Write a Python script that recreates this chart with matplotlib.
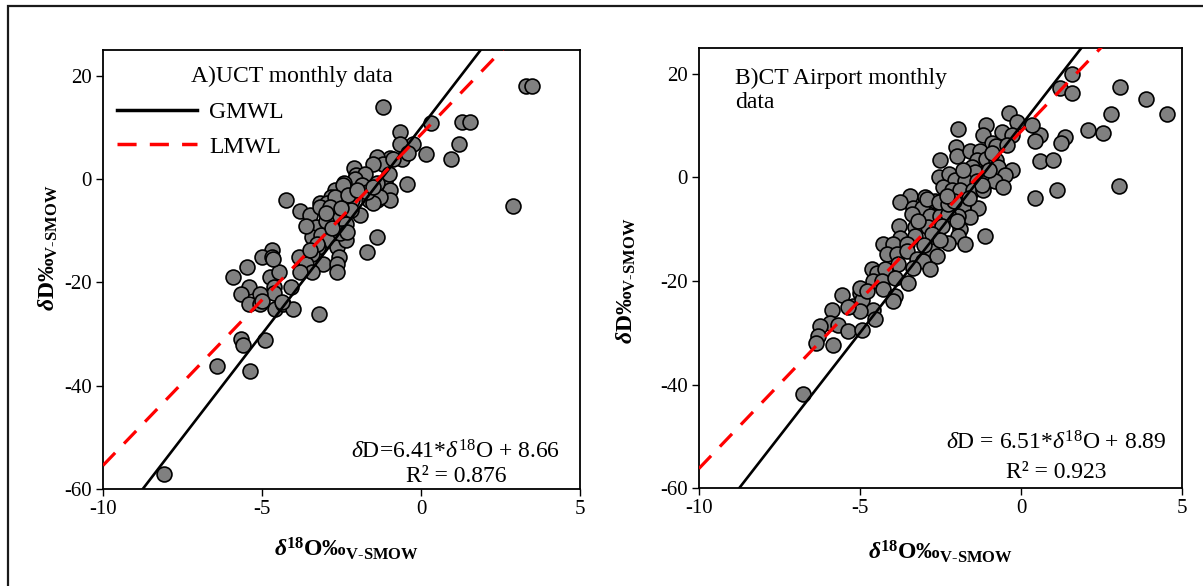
import numpy as np
import matplotlib.pyplot as plt
from matplotlib.lines import Line2D
from matplotlib.patches import Rectangle

plt.rcParams['font.family'] = 'Liberation Serif'
plt.rcParams['axes.unicode_minus'] = False
plt.rcParams['mathtext.fontset'] = 'custom'
plt.rcParams['mathtext.rm'] = 'Liberation Serif'
plt.rcParams['mathtext.it'] = 'Liberation Serif:italic'
plt.rcParams['mathtext.bf'] = 'Liberation Serif:bold'
plt.rcParams['mathtext.bfit'] = 'Liberation Serif:italic:bold'

##UCT monthly isotope data (d18O, dD in permil V-SMOW)
uct_d18O = [3.3, 3.5, 1.3, 1.55, 1.2, 0.95, 0.15, 0.3, 2.9, -0.45, -0.25, -0.65, -0.65, -0.6, -1.2,
            -0.42, -0.96, -1.38, -1.2, -1.5, -0.87, -2.1, -2.04, -1.75, -2.08, -1.14, -0.96, -0.96,
            -2.41, -2.71, -1.87, -1.39, -2.44, -2.17, -1.63, -1.38, -1.29, -2.83, -3.19, -2.95, -4.24,
            -3.79, -3.49, -3.31, -2.65, -1.93, -2.35, -1.38, -1.69, -3.43, -3.13, -2.89, -2.65, -2.41,
            -2.35, -3.25, -3.43, -3.85, -3.61, -3.07, -2.59, -2.65, -2.65, -3.43, -3.79, -4.70, -4.99,
            -4.67, -5.90, -5.48, -4.75, -4.45, -4.09, -4.63, -5.42, -5.66, -4.63, -5.06, -5.42, -5.06,
            -4.58, -4.33, -4.03, -3.21, -5.66, -5.60, -4.90, -6.42, -5.38, -8.09,
            -3.18, -2.70, -2.86, -1.50, -2.55, -2.34, -3.28, -3.49, -4.64, -5.01, -4.38,
            -3.0, -2.8, -2.2, -1.7, -1.0, -2.3, -3.6, -2.5, -3.0, -2.0, -1.5]
uct_dD = [18.0, 18.0, 11.0, 11.0, 6.9, 3.9, 4.9, 10.9, -5.1, -1.0, 6.8, 9.1, 6.9, 3.9, 13.9,
          5.0, 4.2, 4.3, 3.0, 3.0, 4.0, 2.1, 0.8, 1.1, 0.1, -0.5, -2.1, -4.1,
          -0.8, -2.1, -1.2, -0.8, -1.2, -4.1, -4.1, -4.1, -3.4, -3.4, -4.7, -4.7, -4.1,
          -6.2, -7.0, -9.2, -7.0, -7.0, -8.6, -11.2, -14.1, -11.2, -10.9, -11.8, -13.1, -10.5,
          -11.8, -13.1, -14.4, -15.1, -16.4, -16.4, -15.1, -16.4, -18.0, -18.0, -18.0, -13.8, -15.1,
          -15.1, -19.0, -17.0, -19.0, -18.0, -20.9, -20.9, -20.9, -22.2, -22.1, -22.2, -24.1, -24.1,
          -25.1, -24.1, -25.1, -26.1, -30.9, -32.2, -31.1, -36.1, -37.1, -57.1,
          -5.4, -3.4, -5.4, -4.7, -10.5, -10.2, -12.5, -13.8, -15.4, -23.5, -23.8,
          -8.0, -9.5, -6.0, -2.5, 1.0, -3.0, -9.0, -5.5, -6.5, -2.0, -1.5]

##Cape Town Airport monthly isotope data
cta_d18O = [1.57, 1.21, 1.57, 3.07, 3.87, 4.54, 2.79, 2.09, 2.54, 1.37, 1.24, 0.59, 0.43, 0.33, 0.59,
            1.00, 1.11, 0.43, 3.04,
            -0.36, -0.13, -1.95, -1.07, -1.17, -0.60, -0.29, -0.91, -0.76, -0.44, -2.02, -1.98, -1.58,
            -1.27, -1.38, -1.07, -0.76, -0.71, -0.29, -0.50, -2.52, -1.53, -1.43, -2.54, -2.23, -2.05,
            -1.74, -1.38, -1.07, -0.81, -0.55, -2.41, -2.15, -1.89, -1.48, -1.17,
            -3.45, -2.98, -3.76, -3.34, -3.08, -2.67, -2.46, -2.15, -1.79, -1.33, -1.58, -2.83, -2.52,
            -3.39, -1.95, -2.26, -3.78, -3.29, -2.88, -2.46, -1.89, -1.95, -1.12, -1.74, -2.26, -2.77,
            -2.77, -2.62, -3.29, -3.76, -4.28, -3.97, -3.55, -4.17, -3.86, -3.55, -3.24, -3.03, -3.34,
            -2.83, -3.81, -4.64, -4.48, -4.22, -4.59, -4.33, -3.91, -3.50, -4.28, -3.91, -3.97, -5.57,
            -5.00, -5.21, -4.95, -4.59, -5.88, -5.93, -6.24, -5.67, -5.36, -4.95, -4.53, -6.30, -6.35,
            -5.83, -5.00, -5.36, -5.00, -4.79, -6.78, -2.92, -2.56, -2.27, -2.09,
            -3.0, -2.5, -2.0, -1.2, -1.0, -1.8, -3.2, -2.3, -0.9, -1.6]
cta_dD = [20.0, 17.2, 16.4, 17.4, 15.1, 12.2, 12.2, 9.1, 8.6, 7.8, 6.7, 8.3, 7.0, 10.1, 3.1,
          3.3, -2.5, -3.9, -1.7,
          12.5, 10.7, 9.3, 10.1, 8.2, 8.8, 8.3, 6.7, 6.0, 6.2, 5.9, 4.1, 5.2,
          5.2, 3.3, 3.6, 3.3, 2.0, 1.4, 0.4, 3.4, 2.1, 1.0, 0.1, 0.7, -0.4,
          -0.6, -0.6, -0.9, -0.6, -1.9, -1.9, -2.4, -2.5, -2.5, -2.5,
          -3.5, -3.8, -4.8, -5.8, -5.8, -4.5, -6.4, -5.8, -5.8, -5.8, -7.7, -7.4, -7.4,
          -7.0, -7.4, -7.0, -9.3, -9.6, -9.6, -9.3, -10.0, -11.3, -11.3, -12.8, -12.6, -10.9,
          -14.2, -15.1, -11.3, -11.6, -12.9, -12.9, -12.9, -14.8, -14.8, -14.2, -15.8, -16.1, -17.4,
          -17.7, -16.8, -17.7, -18.4, -17.7, -20.0, -20.0, -19.4, -20.3, -21.6, -22.9, -23.9, -22.7,
          -22.3, -24.9, -23.7, -25.5, -25.5, -28.1, -28.7, -28.4, -29.7, -29.4, -27.4, -30.7, -32.0,
          -32.4, -25.8, -25.0, -21.3, -21.9, -41.9, -4.1, -4.8, -5.1, -4.5,
          -13.0, -12.0, -8.5, -1.5, 1.5, 1.5, -8.5, -3.5, 4.8, -4.0]

##meteoric water lines: slope, intercept
gmwl = (8.0, 10.0)
lmwl_uct = (6.41, 8.66)
lmwl_cta = (6.51, 8.89)
r2_uct = 0.876
r2_cta = 0.923

fig = plt.figure(figsize=(12.03, 5.86), dpi=100)
ax1 = fig.add_axes([0.0856, 0.1655, 0.3965, 0.749])
ax2 = fig.add_axes([0.581, 0.167, 0.4015, 0.751])

##outer frame around both panels
fig.patches.append(Rectangle((0.007, -0.05), 1.2, 1.04, transform=fig.transFigure,
                             fill=False, edgecolor='#1a1a1a', lw=1.6))

xlab = r'$\mathbfit{\delta}^{\mathbf{18}}\mathbf{O‰}_{\mathbf{V\text{-}SMOW}}$'
ylab = r'$\mathbfit{\delta}\mathbf{D‰}_{\mathbf{V\text{-}SMOW}}$'
xx = np.array([-10.0, 5.0])

for ax, x, y, lm in [(ax1, uct_d18O, uct_dD, lmwl_uct), (ax2, cta_d18O, cta_dD, lmwl_cta)]:
    ax.scatter(x, y, s=115, c='#808080', edgecolors='black', linewidths=1.2, zorder=2)
    ax.plot(xx, gmwl[0] * xx + gmwl[1], color='black', lw=1.9, zorder=3)
    ax.plot(xx, lm[0] * xx + lm[1], color='red', lw=2.3, dashes=(5.5, 4), zorder=3)
    ax.set_xlim(-10, 5)
    ax.set_ylim(-60, 25)
    ax.set_xticks([-10, -5, 0, 5])
    ax.set_yticks([-60, -40, -20, 0, 20])
    ax.tick_params(direction='out', length=5, width=1, labelsize=15, pad=3)
    for s in ax.spines.values():
        s.set_linewidth(1.3)
    ax.set_xlabel(xlab, fontsize=17)
    ax.set_ylabel(ylab, fontsize=17)

ax1.xaxis.set_label_coords(0.51, -0.105)
ax1.yaxis.set_label_coords(-0.09, 0.55)
ax2.xaxis.set_label_coords(0.50, -0.114)
ax2.yaxis.set_label_coords(-0.126, 0.47)

##panel titles and legend
ax1.text(0.396, 0.94, 'A)UCT monthly data', transform=ax1.transAxes,
         ha='center', va='center', fontsize=17)
handles = [Line2D([], [], color='black', lw=2.5),
           Line2D([], [], color='red', lw=2.5, dashes=(5.5, 3.8))]
ax1.legend(handles, ['GMWL', 'LMWL'], loc='upper left', bbox_to_anchor=(0.0, 0.915),
           frameon=False, fontsize=17, handlelength=3.4, handletextpad=0.5,
           labelspacing=0.55, borderaxespad=0.2)
ax2.text(0.075, 0.955, 'B)CT Airport monthly\ndata', transform=ax2.transAxes,
         ha='left', va='top', fontsize=17, linespacing=1.2)

##regression equations
ax1.text(0.74, 0.085, r'$\it{\delta}$D=%.2f*$\it{\delta}^{18}$O + %.2f' % lmwl_uct,
         transform=ax1.transAxes, ha='center', va='center', fontsize=17)
ax1.text(0.74, 0.028, 'R² = %.3f' % r2_uct, transform=ax1.transAxes,
         ha='center', va='center', fontsize=17)
ax2.text(0.74, 0.102, r'$\it{\delta}$D = %.2f*$\it{\delta}^{18}$O + %.2f' % lmwl_cta,
         transform=ax2.transAxes, ha='center', va='center', fontsize=17)
ax2.text(0.74, 0.036, 'R² = %.3f' % r2_cta, transform=ax2.transAxes,
         ha='center', va='center', fontsize=17)

fig.savefig('out.png', dpi=100)
